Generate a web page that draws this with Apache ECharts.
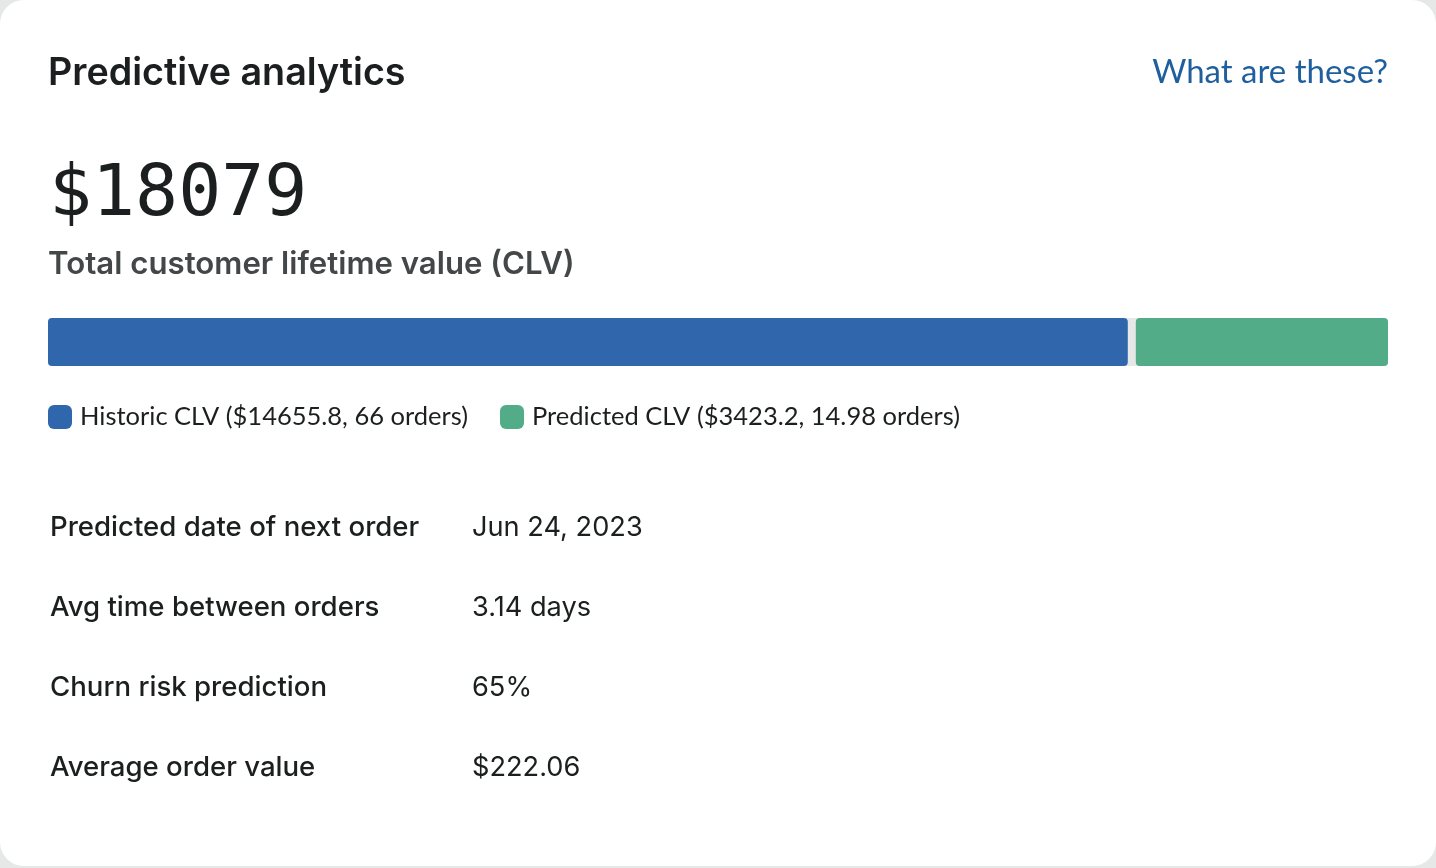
<!DOCTYPE html>
<html lang="en">
<head>
    <meta charset="UTF-8">
    <title>Predictive analytics</title>
    <style>
        html,body{
            padding: 0;margin: 0;background: #e6e8e8;
        }

        #_chart{
            width: 1436px;height: 866px;background: #fff;border-radius: 24px;overflow: hidden;
        }
    </style>
    <script src="https://cdn.jsdelivr.net/npm/echarts@6/dist/echarts.min.js"></script>
</head>
<body>
<div id="_chart"></div>
<script>
    var seriesNames = ['Historic CLV', 'Predicted CLV'];
    var seriesValues = [14655.8, 3423.2];
    var seriesOrders = [66, 14.98];
    var seriesColors = ['#3067ac', '#52ac87'];
    var totalValue = '$18079';
    var rowLabels = ['Predicted date of next order', 'Avg time between orders', 'Churn risk prediction', 'Average order value'];
    var rowValues = ['Jun 24, 2023', '3.14 days', '65%', '$222.06'];

    // the 8px gap between the two segments, in axis units
    var gapValue = 108.6;
    var rowY = [528, 608, 688, 768];
    var labelFont = '500 27.6px Inter';
    var valueFont = '400 27.2px Inter';

    var myChart = echarts.init(document.getElementById('_chart'));

    function legendName(i){
        return seriesNames[i] + ' ($' + seriesValues[i] + ', ' + seriesOrders[i] + ' orders)';
    }

    function textEl(x, y, text, font, fill, align){
        return {
            type: 'text',
            silent: true,
            style: {x: x, y: y, text: text, font: font, fill: fill, align: align || 'left', verticalAlign: 'middle'}
        };
    }

    var elements = [
        textEl(48, 74, 'Predictive analytics', '600 37.7px Inter', '#1c1f1f'),
        textEl(1388, 72, 'What are these?', '33px Lato', '#1f5f9e', 'right'),
        textEl(49, 196, totalValue, '71.5px "DejaVu Sans Mono"', '#1c1f1f'),
        textEl(48, 265, 'Total customer lifetime value (CLV)', '600 31.2px Inter', '#444748')
    ];
    rowLabels.forEach(function(label, i){
        elements.push(textEl(50, rowY[i], label, labelFont, '#1c1f1f'));
        elements.push(textEl(472, rowY[i], rowValues[i], valueFont, '#1c1f1f'));
    });

    var barRadius = 4;
    var option = {
        animation: false,
        grid: {left: 48, right: 48, top: 318, height: 48},
        xAxis: {type: 'value', min: 0, max: seriesValues[0] + seriesValues[1] + gapValue, show: false},
        yAxis: {type: 'category', data: ['CLV'], show: false},
        legend: {
            left: 48, top: 404, padding: 0,
            data: [legendName(0), legendName(1)],
            icon: 'roundRect',
            itemWidth: 24, itemHeight: 24, itemGap: 32,
            selectedMode: false,
            textStyle: {fontFamily: 'Lato', fontSize: 25.5, color: '#1c1f1f', padding: [0, 0, 0, 3]}
        },
        graphic: {elements: elements},
        series: [
            {
                name: legendName(0), type: 'bar', stack: 'clv', barWidth: 48,
                data: [seriesValues[0]],
                showBackground: true,
                backgroundStyle: {color: '#e6e8e8', borderRadius: barRadius},
                itemStyle: {color: seriesColors[0], borderRadius: barRadius}
            },
            {
                name: 'gap', type: 'bar', stack: 'clv', barWidth: 48,
                data: [gapValue],
                itemStyle: {color: 'transparent'}
            },
            {
                name: legendName(1), type: 'bar', stack: 'clv', barWidth: 48,
                data: [seriesValues[1]],
                itemStyle: {color: seriesColors[1], borderRadius: barRadius}
            }
        ]
    };
    myChart.setOption(option);
</script>
</body>
</html>
